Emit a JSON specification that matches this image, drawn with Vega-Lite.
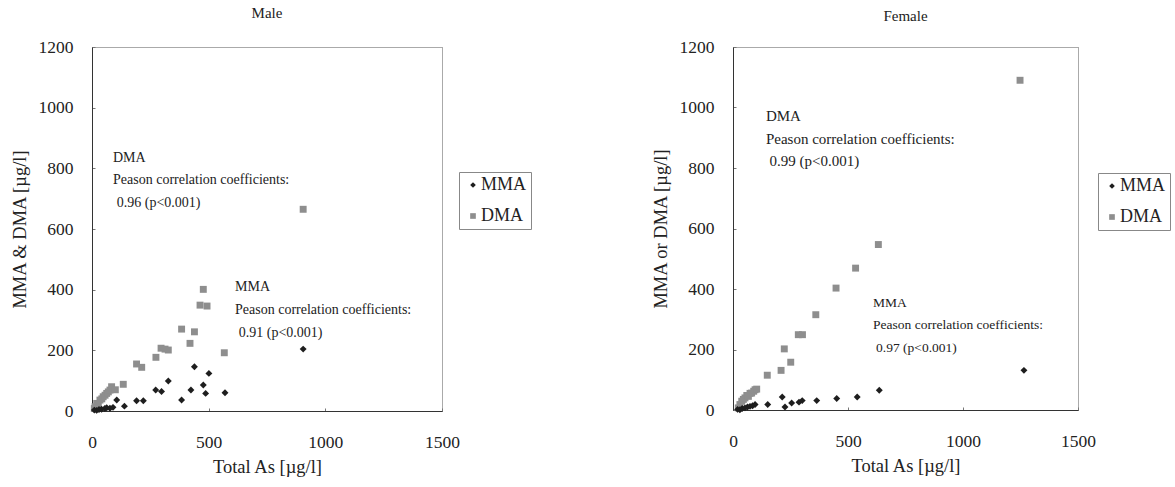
{
  "$schema": "https://vega.github.io/schema/vega-lite/v6.json",
  "background": "white",
  "padding": {"left": 9, "top": 5, "right": 5, "bottom": 5},
  "spacing": 118,
  "align": "none",
  "config": {
    "font": "Liberation Serif",
    "view": {"stroke": "#555555", "strokeDash": [1, 1], "strokeWidth": 1},
    "axis": {
      "grid": false,
      "domainColor": "#333333",
      "domainWidth": 1,
      "labelFont": "Liberation Serif",
      "labelFontSize": 17.5,
      "labelColor": "#222222",
      "titleFont": "Liberation Serif",
      "titleFontSize": 18.5,
      "titleFontWeight": "normal",
      "titleColor": "#222222",
      "tickColor": "#777777",
      "tickSize": -3,
      "format": "d"
    },
    "axisX": {"labelPadding": 25, "titlePadding": 7, "labelFlush": false},
    "axisY": {"labelPadding": 22, "titlePadding": 9},
    "legend": {
      "orient": "none",
      "labelFont": "Liberation Serif",
      "labelFontSize": 18,
      "labelColor": "#222222",
      "symbolSize": 32,
      "symbolStrokeWidth": 0,
      "symbolOffset": 1,
      "rowPadding": 13,
      "padding": 4,
      "labelOffset": -1,
      "strokeColor": "#888888",
      "title": null
    },
    "title": {"font": "Liberation Serif", "fontSize": 15, "fontWeight": "normal", "color": "#222222"}
  },
  "datasets": {
    "points": [
      {"panel": "Male", "series": "DMA", "total": 10, "value": 8},
      {"panel": "Male", "series": "DMA", "total": 13, "value": 14},
      {"panel": "Male", "series": "DMA", "total": 20, "value": 25},
      {"panel": "Male", "series": "DMA", "total": 27, "value": 22},
      {"panel": "Male", "series": "DMA", "total": 34, "value": 36},
      {"panel": "Male", "series": "DMA", "total": 42, "value": 40},
      {"panel": "Male", "series": "DMA", "total": 48, "value": 47},
      {"panel": "Male", "series": "DMA", "total": 56, "value": 52},
      {"panel": "Male", "series": "DMA", "total": 63, "value": 58},
      {"panel": "Male", "series": "DMA", "total": 70, "value": 63},
      {"panel": "Male", "series": "DMA", "total": 77, "value": 69},
      {"panel": "Male", "series": "DMA", "total": 84, "value": 80},
      {"panel": "Male", "series": "DMA", "total": 100, "value": 70},
      {"panel": "Male", "series": "DMA", "total": 134, "value": 88},
      {"panel": "Male", "series": "DMA", "total": 191, "value": 155},
      {"panel": "Male", "series": "DMA", "total": 213, "value": 144},
      {"panel": "Male", "series": "DMA", "total": 274, "value": 177},
      {"panel": "Male", "series": "DMA", "total": 296, "value": 207},
      {"panel": "Male", "series": "DMA", "total": 313, "value": 204},
      {"panel": "Male", "series": "DMA", "total": 327, "value": 201},
      {"panel": "Male", "series": "DMA", "total": 384, "value": 270},
      {"panel": "Male", "series": "DMA", "total": 420, "value": 223},
      {"panel": "Male", "series": "DMA", "total": 439, "value": 261},
      {"panel": "Male", "series": "DMA", "total": 463, "value": 349},
      {"panel": "Male", "series": "DMA", "total": 477, "value": 401},
      {"panel": "Male", "series": "DMA", "total": 493, "value": 346},
      {"panel": "Male", "series": "DMA", "total": 567, "value": 192},
      {"panel": "Male", "series": "DMA", "total": 905, "value": 665},
      {"panel": "Male", "series": "MMA", "total": 10, "value": 3},
      {"panel": "Male", "series": "MMA", "total": 20, "value": 2},
      {"panel": "Male", "series": "MMA", "total": 30, "value": 5},
      {"panel": "Male", "series": "MMA", "total": 41, "value": 6},
      {"panel": "Male", "series": "MMA", "total": 55, "value": 8},
      {"panel": "Male", "series": "MMA", "total": 63, "value": 11},
      {"panel": "Male", "series": "MMA", "total": 77, "value": 9},
      {"panel": "Male", "series": "MMA", "total": 90, "value": 12},
      {"panel": "Male", "series": "MMA", "total": 106, "value": 36},
      {"panel": "Male", "series": "MMA", "total": 139, "value": 16},
      {"panel": "Male", "series": "MMA", "total": 191, "value": 34},
      {"panel": "Male", "series": "MMA", "total": 220, "value": 34},
      {"panel": "Male", "series": "MMA", "total": 273, "value": 69},
      {"panel": "Male", "series": "MMA", "total": 298, "value": 64},
      {"panel": "Male", "series": "MMA", "total": 327, "value": 99},
      {"panel": "Male", "series": "MMA", "total": 384, "value": 36},
      {"panel": "Male", "series": "MMA", "total": 424, "value": 69},
      {"panel": "Male", "series": "MMA", "total": 439, "value": 146},
      {"panel": "Male", "series": "MMA", "total": 477, "value": 86},
      {"panel": "Male", "series": "MMA", "total": 487, "value": 58},
      {"panel": "Male", "series": "MMA", "total": 501, "value": 124},
      {"panel": "Male", "series": "MMA", "total": 570, "value": 60},
      {"panel": "Male", "series": "MMA", "total": 905, "value": 204},
      {"panel": "Female", "series": "DMA", "total": 23, "value": 7},
      {"panel": "Female", "series": "DMA", "total": 30, "value": 18},
      {"panel": "Female", "series": "DMA", "total": 38, "value": 29},
      {"panel": "Female", "series": "DMA", "total": 45, "value": 35},
      {"panel": "Female", "series": "DMA", "total": 52, "value": 40},
      {"panel": "Female", "series": "DMA", "total": 60, "value": 48},
      {"panel": "Female", "series": "DMA", "total": 67, "value": 45},
      {"panel": "Female", "series": "DMA", "total": 74, "value": 55},
      {"panel": "Female", "series": "DMA", "total": 81, "value": 56},
      {"panel": "Female", "series": "DMA", "total": 90, "value": 62},
      {"panel": "Female", "series": "DMA", "total": 96, "value": 67},
      {"panel": "Female", "series": "DMA", "total": 103, "value": 69},
      {"panel": "Female", "series": "DMA", "total": 149, "value": 115},
      {"panel": "Female", "series": "DMA", "total": 209, "value": 131},
      {"panel": "Female", "series": "DMA", "total": 223, "value": 202},
      {"panel": "Female", "series": "DMA", "total": 251, "value": 158},
      {"panel": "Female", "series": "DMA", "total": 284, "value": 249},
      {"panel": "Female", "series": "DMA", "total": 302, "value": 249},
      {"panel": "Female", "series": "DMA", "total": 360, "value": 315},
      {"panel": "Female", "series": "DMA", "total": 448, "value": 403},
      {"panel": "Female", "series": "DMA", "total": 533, "value": 469},
      {"panel": "Female", "series": "DMA", "total": 632, "value": 547},
      {"panel": "Female", "series": "DMA", "total": 1248, "value": 1090},
      {"panel": "Female", "series": "MMA", "total": 20, "value": 2},
      {"panel": "Female", "series": "MMA", "total": 30, "value": 1},
      {"panel": "Female", "series": "MMA", "total": 40, "value": 5},
      {"panel": "Female", "series": "MMA", "total": 52, "value": 7},
      {"panel": "Female", "series": "MMA", "total": 63, "value": 10},
      {"panel": "Female", "series": "MMA", "total": 74, "value": 12},
      {"panel": "Female", "series": "MMA", "total": 85, "value": 14},
      {"panel": "Female", "series": "MMA", "total": 96, "value": 18},
      {"panel": "Female", "series": "MMA", "total": 151, "value": 18},
      {"panel": "Female", "series": "MMA", "total": 214, "value": 43},
      {"panel": "Female", "series": "MMA", "total": 226, "value": 10},
      {"panel": "Female", "series": "MMA", "total": 255, "value": 23},
      {"panel": "Female", "series": "MMA", "total": 287, "value": 26},
      {"panel": "Female", "series": "MMA", "total": 301, "value": 31},
      {"panel": "Female", "series": "MMA", "total": 364, "value": 31},
      {"panel": "Female", "series": "MMA", "total": 451, "value": 38},
      {"panel": "Female", "series": "MMA", "total": 540, "value": 43},
      {"panel": "Female", "series": "MMA", "total": 636, "value": 65},
      {"panel": "Female", "series": "MMA", "total": 1265, "value": 131}
    ],
    "notes": [
      {"panel": "Male", "group": "main", "x": 90, "y": 834, "text": "DMA"},
      {"panel": "Male", "group": "main", "x": 90, "y": 762, "text": "Peason correlation coefficients:"},
      {"panel": "Male", "group": "main", "x": 106, "y": 686, "text": "0.96 (p<0.001)"},
      {"panel": "Male", "group": "main", "x": 613, "y": 409, "text": "MMA"},
      {"panel": "Male", "group": "main", "x": 613, "y": 333, "text": "Peason correlation coefficients:"},
      {"panel": "Male", "group": "main", "x": 629, "y": 257, "text": "0.91 (p<0.001)"},
      {"panel": "Female", "group": "main", "x": 143, "y": 972, "text": "DMA"},
      {"panel": "Female", "group": "main", "x": 143, "y": 896, "text": "Peason correlation coefficients:"},
      {"panel": "Female", "group": "main", "x": 159, "y": 823, "text": "0.99 (p<0.001)"},
      {"panel": "Female", "group": "small", "x": 609, "y": 354, "text": "MMA"},
      {"panel": "Female", "group": "small", "x": 609, "y": 281, "text": "Peason correlation coefficients:"},
      {"panel": "Female", "group": "small", "x": 622, "y": 205, "text": "0.97 (p<0.001)"}
    ]
  },
  "resolve": {
    "scale": {"color": "independent", "shape": "independent", "x": "independent", "y": "independent"},
    "legend": {"color": "independent", "shape": "independent"}
  },
  "hconcat": [
    {
      "width": 350,
      "height": 364,
      "title": {"text": "Male", "offset": 17, "font": "Liberation Serif", "fontSize": 15, "fontWeight": "normal"},
      "layer": [
        {
          "data": {"name": "points"},
          "transform": [{"filter": "datum.panel == 'Male'"}],
          "mark": {"type": "point", "filled": true, "opacity": 1, "size": 48},
          "encoding": {
            "x": {"field": "total", "type": "quantitative", "scale": {"domain": [0, 1500], "nice": false},
                  "axis": {"values": [0, 500, 1000, 1500], "title": "Total As [µg/l]", "format": "d", "labelFont": "Liberation Serif"}},
            "y": {"field": "value", "type": "quantitative", "scale": {"domain": [0, 1200], "nice": false},
                  "axis": {"values": [0, 200, 400, 600, 800, 1000, 1200], "title": "MMA & DMA [µg/l]", "format": "d", "labelFont": "Liberation Serif"}},
            "shape": {"field": "series", "type": "nominal",
                      "scale": {"domain": ["MMA", "DMA"], "range": ["diamond", "square"]},
                      "legend": {"legendX": 367, "legendY": 125}},
            "color": {"field": "series", "type": "nominal",
                      "scale": {"domain": ["MMA", "DMA"], "range": ["#1e1e1e", "#8e8e8e"]},
                      "legend": {"legendX": 367, "legendY": 125}}
          }
        },
        {
          "data": {"name": "notes"},
          "transform": [{"filter": "datum.panel == 'Male'"}],
          "mark": {"type": "text", "align": "left", "baseline": "middle", "fontSize": 14, "font": "Liberation Serif", "color": "#222222"},
          "encoding": {
            "x": {"field": "x", "type": "quantitative"},
            "y": {"field": "y", "type": "quantitative"},
            "text": {"field": "text", "type": "nominal"}
          }
        }
      ]
    },
    {
      "width": 345,
      "height": 363,
      "title": {"text": "Female", "offset": 14, "font": "Liberation Serif", "fontSize": 15, "fontWeight": "normal"},
      "layer": [
        {
          "data": {"name": "points"},
          "transform": [{"filter": "datum.panel == 'Female'"}],
          "mark": {"type": "point", "filled": true, "opacity": 1, "size": 48},
          "encoding": {
            "x": {"field": "total", "type": "quantitative", "scale": {"domain": [0, 1500], "nice": false},
                  "axis": {"values": [0, 500, 1000, 1500], "title": "Total As [µg/l]", "format": "d", "labelFont": "Liberation Serif"}},
            "y": {"field": "value", "type": "quantitative", "scale": {"domain": [0, 1200], "nice": false},
                  "axis": {"values": [0, 200, 400, 600, 800, 1000, 1200], "title": "MMA or DMA [µg/l]", "format": "d", "labelFont": "Liberation Serif"}},
            "shape": {"field": "series", "type": "nominal",
                      "scale": {"domain": ["MMA", "DMA"], "range": ["diamond", "square"]},
                      "legend": {"legendX": 365, "legendY": 126}},
            "color": {"field": "series", "type": "nominal",
                      "scale": {"domain": ["MMA", "DMA"], "range": ["#1e1e1e", "#8e8e8e"]},
                      "legend": {"legendX": 365, "legendY": 126}}
          }
        },
        {
          "data": {"name": "notes"},
          "transform": [{"filter": "datum.panel == 'Female' && datum.group == 'main'"}],
          "mark": {"type": "text", "align": "left", "baseline": "middle", "fontSize": 15, "font": "Liberation Serif", "color": "#222222"},
          "encoding": {
            "x": {"field": "x", "type": "quantitative"},
            "y": {"field": "y", "type": "quantitative"},
            "text": {"field": "text", "type": "nominal"}
          }
        },
        {
          "data": {"name": "notes"},
          "transform": [{"filter": "datum.panel == 'Female' && datum.group == 'small'"}],
          "mark": {"type": "text", "align": "left", "baseline": "middle", "fontSize": 13.5, "font": "Liberation Serif", "color": "#222222"},
          "encoding": {
            "x": {"field": "x", "type": "quantitative"},
            "y": {"field": "y", "type": "quantitative"},
            "text": {"field": "text", "type": "nominal"}
          }
        }
      ]
    }
  ]
}
